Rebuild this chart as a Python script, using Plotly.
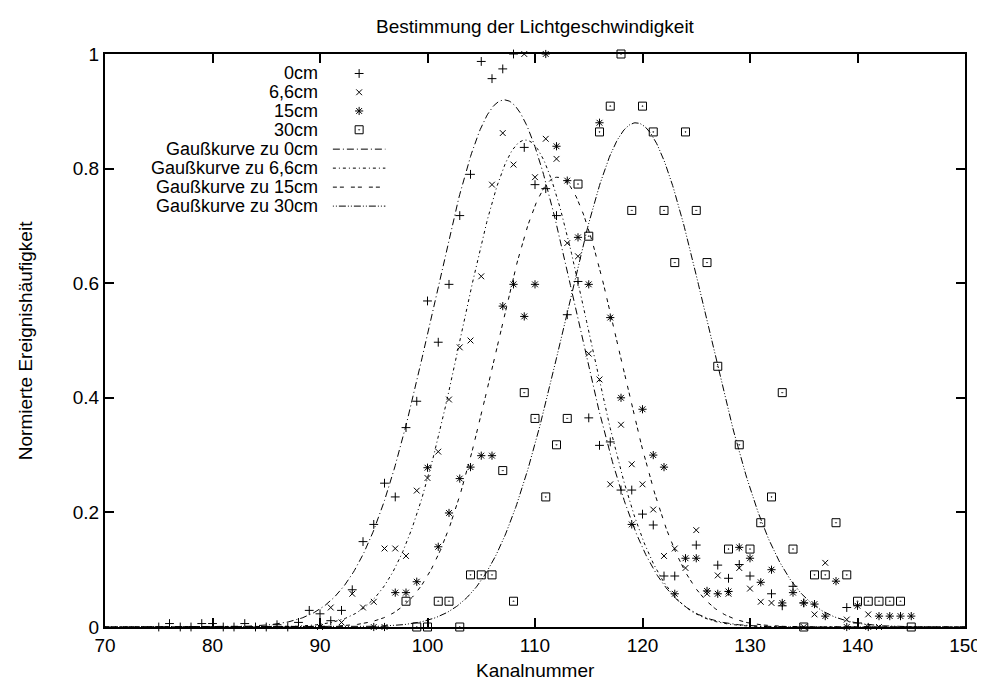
import numpy as np
import plotly.graph_objects as go

# ---------------- data ----------------
kanal_0cm = [75, 76, 77, 78, 79, 80, 81, 82, 83, 84, 85, 86, 87, 88,
             89, 90, 91, 92, 93, 94, 95, 96, 97, 98,
             99, 100, 101, 102, 103, 104, 105, 106, 107, 108,
             109, 110, 111, 112, 113, 114, 115, 116, 117, 118,
             119, 120, 121, 122, 123,
             125, 127, 128, 129, 130, 132, 133, 134, 135, 139, 140]
wert_0cm = [0, 0.006, 0, 0, 0.006, 0.006, 0, 0, 0.006, 0, 0, 0.004, 0, 0.008,
            0.029, 0.023, 0.011, 0.029, 0.065, 0.149, 0.179, 0.251, 0.227, 0.348,
            0.394, 0.569, 0.497, 0.598, 0.718, 0.79, 0.987, 0.957, 0.974, 1.0,
            0.837, 0.772, 0.765, 0.718, 0.545, 0.603, 0.365, 0.317, 0.323, 0.239,
            0.239, 0.197, 0.178, 0.089, 0.089,
            0.143, 0.108, 0.085, 0.109, 0.089, 0.058, 0.037, 0.071, 0.042, 0.034, 0.007]

kanal_66cm = [90, 91, 92, 93, 94, 95, 96, 97, 98, 99,
              100, 101, 102, 103, 104, 105, 106, 107, 108, 109,
              110, 111, 112, 113, 114, 115, 116, 117, 118, 119,
              120, 121, 122, 123, 124, 125, 126, 127, 128, 129,
              130, 131, 132, 135, 136, 137, 139, 141, 142]
wert_66cm = [0, 0.034, 0.008, 0.058, 0.034, 0.044, 0.137, 0.137, 0.124, 0.238,
             0.26, 0.306, 0.397, 0.488, 0.5, 0.612, 0.772, 0.862, 0.807, 1.0,
             0.785, 0.852, 0.817, 0.67, 0.647, 0.477, 0.432, 0.249, 0.353, 0.284,
             0.249, 0.205, 0.124, 0.137, 0.103, 0.169, 0.058, 0.09, 0.058, 0.103,
             0.067, 0.044, 0.042, 0, 0.022, 0.112, 0.013, 0.022, 0]

kanal_15cm = [95, 96, 97, 98, 99, 100, 101, 102, 103, 104,
              105, 106, 107, 108, 109, 110, 111, 112, 113, 114,
              115, 116, 117, 118, 119, 120, 121, 122, 123, 124,
              125, 126, 127, 128, 129, 130, 131, 132, 133, 134,
              135, 136, 137, 138, 139, 140, 141, 142, 143, 144, 145]
wert_15cm = [0, 0, 0.06, 0.06, 0.079, 0.278, 0.14, 0.199, 0.259, 0.279,
             0.299, 0.299, 0.56, 0.598, 0.542, 0.598, 1.0, 0.839, 0.779, 0.68,
             0.598, 0.88, 0.54, 0.4, 0.179, 0.38, 0.3, 0.279, 0.058, 0.12,
             0.12, 0.063, 0.058, 0.062, 0.139, 0.12, 0.078, 0.1, 0.042, 0.06,
             0.042, 0.04, 0.019, 0.08, 0, 0.037, 0, 0.019, 0.019, 0.019, 0.019]

kanal_30cm = [98, 99, 100, 101, 102, 103, 104, 105, 106, 107,
              108, 109, 110, 111, 112, 113, 114, 115, 116, 117,
              118, 119, 120, 121, 122, 123, 124, 125, 126, 127,
              128, 129, 130, 131, 132, 133, 134, 135, 136, 137,
              138, 139, 140, 141, 142, 143, 144, 145]
wert_30cm = [0.045, 0, 0, 0.045, 0.045, 0, 0.091, 0.091, 0.091, 0.273,
             0.045, 0.409, 0.364, 0.227, 0.318, 0.364, 0.773, 0.682, 0.864, 0.909,
             1.0, 0.727, 0.909, 0.864, 0.727, 0.636, 0.864, 0.727, 0.636, 0.455,
             0.136, 0.318, 0.136, 0.182, 0.227, 0.409, 0.136, 0, 0.091, 0.091,
             0.182, 0.091, 0.045, 0.045, 0.045, 0.045, 0.045, 0]

# Gaussian fit parameters (amplitude, centre, width)
gauss_amp = [0.92, 0.85, 0.785, 0.88]
gauss_mu = [107.15, 109.1, 112.1, 119.4]
gauss_sigma = [6.6, 5.9, 5.8, 6.6]

serien_namen = ["0cm", "6,6cm", "15cm", "30cm"]
kurven_namen = ["Gaußkurve zu 0cm", "Gaußkurve zu 6,6cm",
                "Gaußkurve zu 15cm", "Gaußkurve zu 30cm"]

x_ticks = [70, 80, 90, 100, 110, 120, 130, 140, 150]
y_ticks = [0, 0.2, 0.4, 0.6, 0.8, 1]

# ---------------- style ----------------
FONT = "Liberation Sans, Arial, sans-serif"
FS = 19
FS_LEG = 18
symbols = ["cross-thin", "x-thin", "asterisk", "square-open-dot"]
msizes = [6.3, 5.8, 6.8, 8]
dashes = ["7px,3px,1px,3px", "3px,3px,1px,3px", "4px,3px,4px,7px",
          "1px,2px,1px,2px,7px,2px"]

W, H = 985, 680
L, R, T, B = 97, 965, 46, 619.3

fig = go.Figure()

series = [(kanal_0cm, wert_0cm), (kanal_66cm, wert_66cm),
          (kanal_15cm, wert_15cm), (kanal_30cm, wert_30cm)]
for (xs, ys), name, sym, ms in zip(series, serien_namen, symbols, msizes):
    fig.add_trace(go.Scatter(
        x=xs, y=ys, mode="markers", name=name, showlegend=False,
        cliponaxis=False,
        marker=dict(symbol=sym, size=ms, color="black",
                    line=dict(color="black", width=1)),
    ))

xg = np.linspace(70, 150, 801)
for a, m, s, name, d in zip(gauss_amp, gauss_mu, gauss_sigma, kurven_namen, dashes):
    fig.add_trace(go.Scatter(
        x=xg, y=a * np.exp(-(xg - m) ** 2 / (2 * s ** 2)), mode="lines",
        name=name, showlegend=False,
        line=dict(color="black", width=1, dash=d),
    ))

# ---------------- hand-made legend (text left, sample right) ----------------
leg_rows = [65.5, 84.3, 103.0, 121.8, 141.2, 160.2, 179.2, 198.2]
leg_text_right = 313
leg_x0, leg_x1 = 327, 380
leg_mid = 353.5
leg_labels = serien_namen + kurven_namen

for i, (lab, yy) in enumerate(zip(leg_labels, leg_rows)):
    fig.add_annotation(x=leg_text_right, y=yy, xref="x2", yref="y2",
                       text=lab, showarrow=False, xanchor="right",
                       yanchor="middle", borderpad=0,
                       font=dict(family=FONT, size=FS_LEG, color="black"))
    if i < 4:
        fig.add_trace(go.Scatter(
            x=[leg_mid], y=[yy], xaxis="x2", yaxis="y2", mode="markers",
            showlegend=False, hoverinfo="skip", cliponaxis=False,
            marker=dict(symbol=symbols[i], size=msizes[i], color="black",
                        line=dict(color="black", width=1)),
        ))
    else:
        fig.add_shape(type="line", xref="x2", yref="y2",
                      x0=leg_x0, x1=leg_x1, y0=yy, y1=yy,
                      line=dict(color="black", width=1, dash=dashes[i - 4]))

axis_common = dict(
    showline=True, linecolor="black", linewidth=2, mirror="ticks",
    ticks="inside", ticklen=9, tickwidth=1.5, tickcolor="black",
    showgrid=False, zeroline=False,
    tickfont=dict(family=FONT, size=FS, color="black"),
)

fig.update_layout(
    width=W, height=H,
    margin=dict(l=L, r=W - R, t=T, b=H - B, pad=0),
    paper_bgcolor="white", plot_bgcolor="white",
    showlegend=False,
    xaxis=dict(range=[70, 150], tickvals=x_ticks, **axis_common),
    yaxis=dict(range=[0, 1], tickvals=y_ticks, **axis_common),
    xaxis2=dict(range=[L, R], overlaying="x", visible=False, fixedrange=True),
    yaxis2=dict(range=[B, T], overlaying="y", visible=False, fixedrange=True),
)

# titles
fig.add_annotation(text="Bestimmung der Lichtgeschwindigkeit", xref="paper",
                   yref="paper", x=0.5, y=(B - 18) / (B - T), showarrow=False,
                   xanchor="center", yanchor="middle",
                   font=dict(family=FONT, size=FS, color="black"))
fig.add_annotation(text="Kanalnummer", xref="paper", yref="paper",
                   x=0.5, y=(B - 663) / (B - T), showarrow=False,
                   xanchor="center", yanchor="middle",
                   font=dict(family=FONT, size=FS, color="black"))
fig.add_annotation(text="Normierte Ereignishäufigkeit", xref="paper",
                   yref="paper", x=(17 - L) / (R - L), y=0.5, textangle=-90,
                   showarrow=False, xanchor="center", yanchor="middle",
                   font=dict(family=FONT, size=FS, color="black"))

fig.write_html("out.html")
